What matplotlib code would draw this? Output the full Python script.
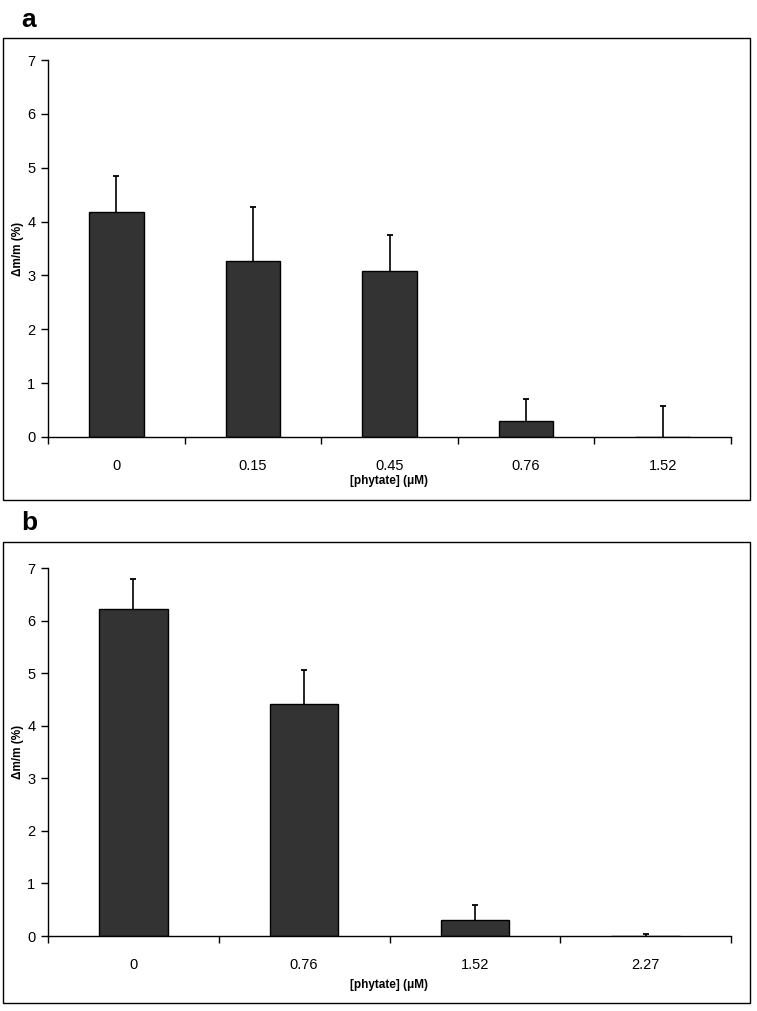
import matplotlib
matplotlib.use("Agg")
import matplotlib.pyplot as plt
from matplotlib.patches import Rectangle

plt.rcParams['font.family'] = ['Liberation Sans', 'DejaVu Sans']

# Panel a
cats_a = ["0", "0.15", "0.45", "0.76", "1.52"]
vals_a = [4.17, 3.27, 3.08, 0.30, 0.0]
errs_a = [0.68, 1.00, 0.67, 0.40, 0.57]

# Panel b
cats_b = ["0", "0.76", "1.52", "2.27"]
vals_b = [6.22, 4.41, 0.30, 0.0]
errs_b = [0.57, 0.65, 0.29, 0.03]

yticks = [0, 1, 2, 3, 4, 5, 6, 7]
xlabel = "[phytate] (\u03bcM)"
ylabel = "\u0394m/m (%)"

W, H = 757, 1011
fig = plt.figure(figsize=(W / 100, H / 100), dpi=100)


def fx(px):
    return px / W


def fy(py):
    return 1 - py / H


def panel(cats, vals, errs, box, ax_rect, letter, letter_y, xlab_y):
    x0, y0, x1, y1 = box
    fig.patches.append(Rectangle((fx(x0), fy(y1)), fx(x1) - fx(x0), fy(y0) - fy(y1),
                                 transform=fig.transFigure, fill=False,
                                 edgecolor='black', linewidth=1.0))
    l, t, r, b = ax_rect
    ax = fig.add_axes([fx(l), fy(b), fx(r) - fx(l), fy(t) - fy(b)])
    n = len(cats)
    xs = list(range(n))
    ax.bar(xs, vals, width=0.4, color='#333333', edgecolor='black', linewidth=1.0, zorder=2)
    tops = [v + e for v, e in zip(vals, errs)]
    ax.vlines(xs, vals, tops, colors='black', linewidth=1.2, zorder=3)
    ax.plot(xs, tops, linestyle='none', marker='_', markersize=5, markeredgewidth=1.3,
            color='black', zorder=3)
    ax.set_xlim(-0.5, n - 0.5)
    ax.set_ylim(0, 7)
    ax.set_yticks(yticks)
    ax.set_yticklabels([str(v) for v in yticks], fontsize=10.5)
    ax.set_xticks([i - 0.5 for i in range(n + 1)])
    ax.set_xticklabels([])
    ax.set_xticks(xs, minor=True)
    ax.set_xticklabels(cats, minor=True, fontsize=10.5)
    ax.tick_params(axis='x', which='major', direction='out', length=5, width=1)
    ax.tick_params(axis='x', which='minor', length=0, pad=16)
    ax.tick_params(axis='y', direction='out', length=5, width=1, pad=4)
    for s in ['top', 'right']:
        ax.spines[s].set_visible(False)
    for s in ['left', 'bottom']:
        ax.spines[s].set_linewidth(1.0)
    fig.text(fx(18), fy((t + b) / 2), ylabel, fontsize=8.5, fontweight='bold',
             rotation=90, ha='center', va='center')
    fig.text(fx((l + r) / 2), fy(xlab_y), xlabel, fontsize=8.5, fontweight='bold',
             ha='center', va='center')
    fig.text(fx(21), fy(letter_y), letter, fontsize=19, fontweight='bold',
             ha='left', va='center')
    return ax


panel(cats_a, vals_a, errs_a, (3, 38, 750, 500), (48, 60, 731, 437), 'a', 20, 481)
panel(cats_b, vals_b, errs_b, (3, 542, 750, 1003), (48, 568, 731, 936), 'b', 523, 985)

fig.savefig("out.png", dpi=100)
